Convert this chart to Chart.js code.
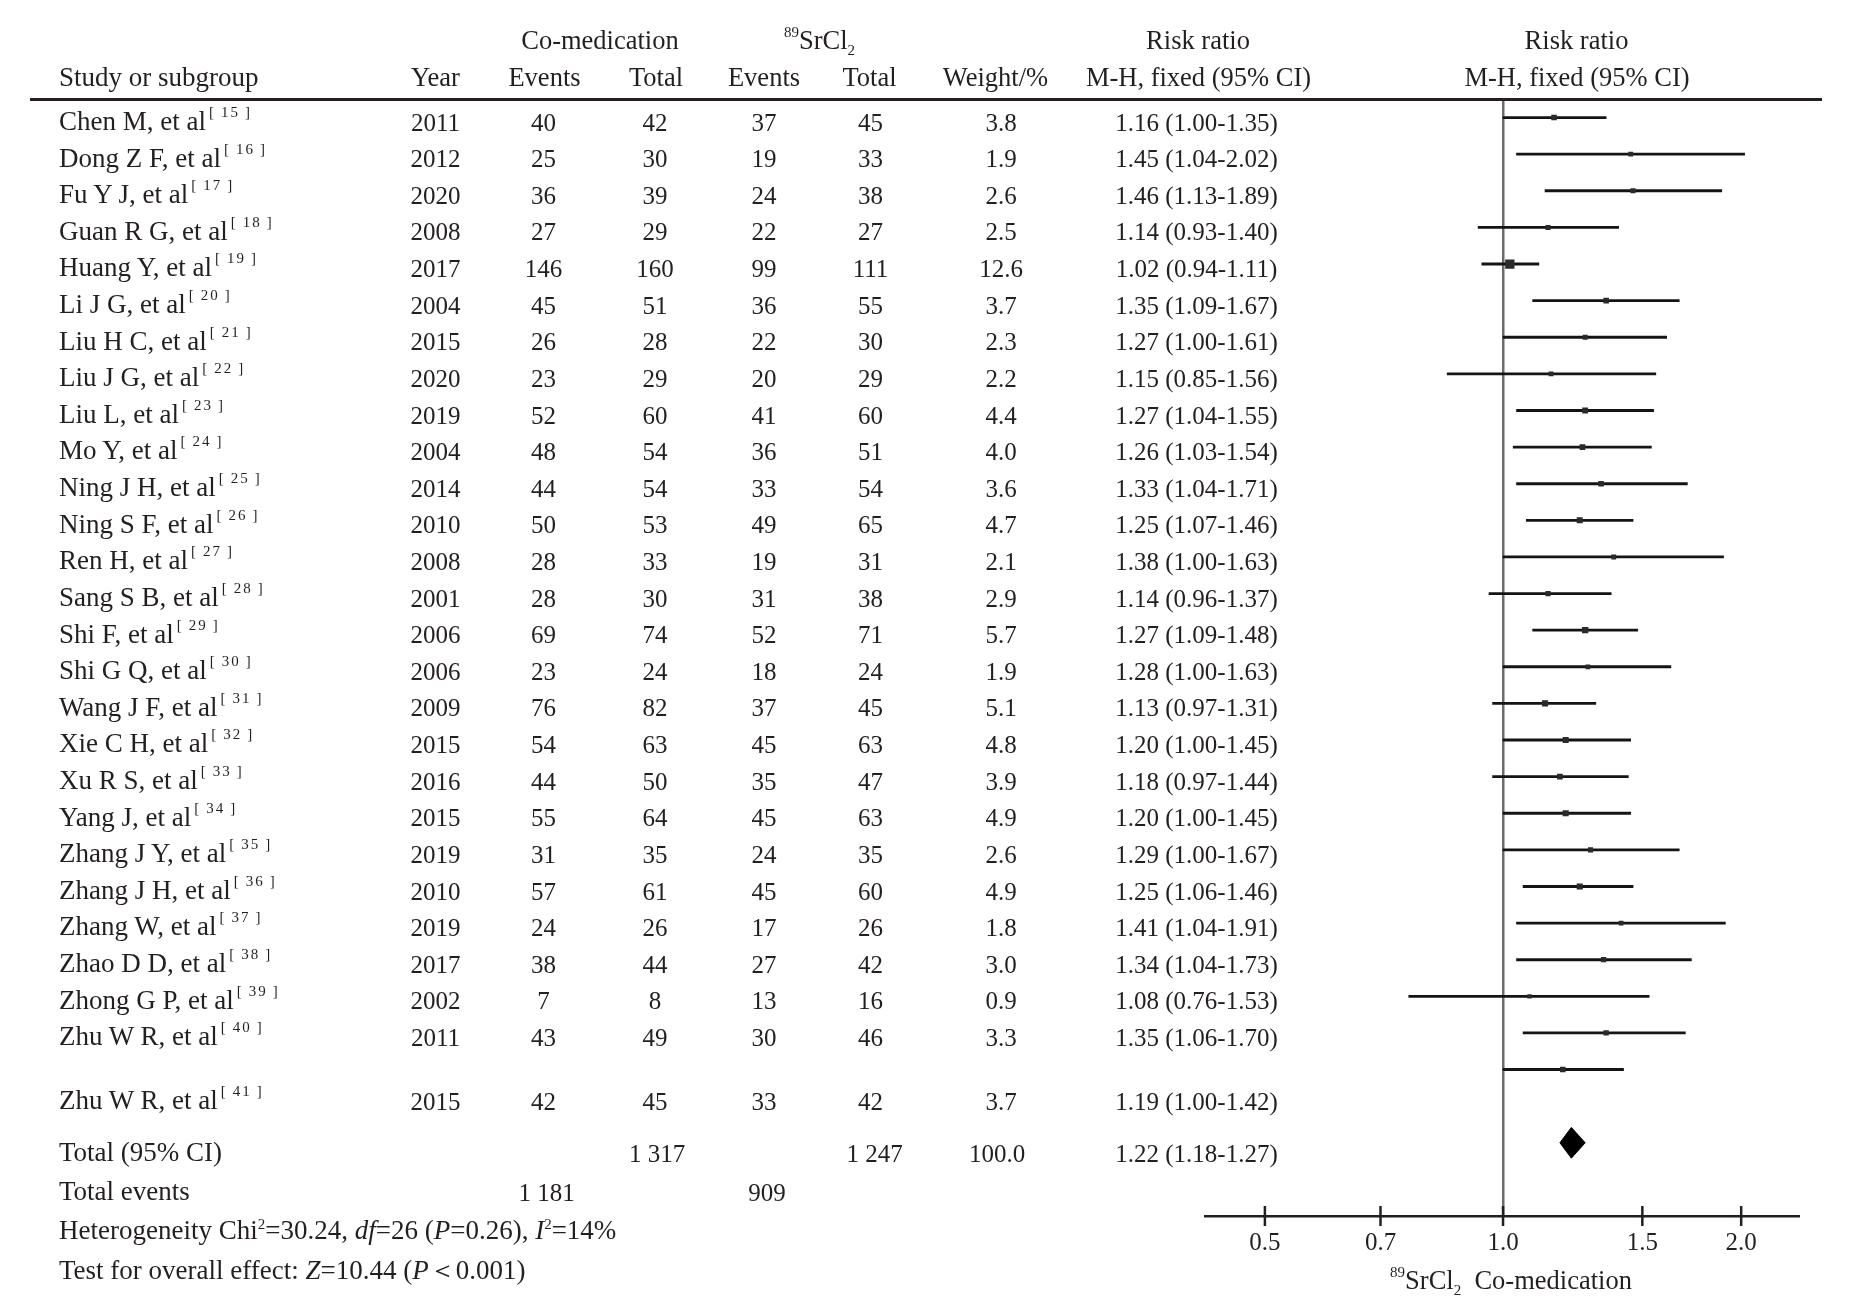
<!DOCTYPE html>
<html><head><meta charset="utf-8">
<script src="https://cdn.jsdelivr.net/npm/chart.js@4.4.1/dist/chart.umd.min.js"></script>
<style>
html,body{margin:0;padding:0;background:#fff;}
body{width:1854px;height:1314px;position:relative;overflow:hidden;}
#c{position:absolute;left:0;top:0;width:1854px;height:1314px;}
.t{position:absolute;white-space:nowrap;line-height:1;font-family:'Liberation Serif','Times New Roman',serif;color:#231f20;}
.ref{font-size:15px;position:relative;top:-13px;margin-left:3px;letter-spacing:2px;}
.sup{font-size:15px;position:relative;top:-12px;}
.sub{font-size:15px;position:relative;top:6px;}
#rule{position:absolute;left:30px;top:98px;width:1792px;height:3px;background:#231f20;}
</style></head><body>
<canvas id="c" width="1854" height="1314"></canvas>
<div id="rule"></div>
<script>
// ---------------- data ----------------
const studyNames = ["Chen M, et al","Dong Z F, et al","Fu Y J, et al","Guan R G, et al","Huang Y, et al","Li J G, et al","Liu H C, et al","Liu J G, et al","Liu L, et al","Mo Y, et al","Ning J H, et al","Ning S F, et al","Ren H, et al","Sang S B, et al","Shi F, et al","Shi G Q, et al","Wang J F, et al","Xie C H, et al","Xu R S, et al","Yang J, et al","Zhang J Y, et al","Zhang J H, et al","Zhang W, et al","Zhao D D, et al","Zhong G P, et al","Zhu W R, et al","Zhu W R, et al"];
const studyRefs = [15,16,17,18,19,20,21,22,23,24,25,26,27,28,29,30,31,32,33,34,35,36,37,38,39,40,41];
const studyYears = [2011,2012,2020,2008,2017,2004,2015,2020,2019,2004,2014,2010,2008,2001,2006,2006,2009,2015,2016,2015,2019,2010,2019,2017,2002,2011,2015];
const coEvents = [40,25,36,27,146,45,26,23,52,48,44,50,28,28,69,23,76,54,44,55,31,57,24,38,7,43,42];
const coTotals = [42,30,39,29,160,51,28,29,60,54,54,53,33,30,74,24,82,63,50,64,35,61,26,44,8,49,45];
const srEvents = [37,19,24,22,99,36,22,20,41,36,33,49,19,31,52,18,37,45,35,45,24,45,17,27,13,30,33];
const srTotals = [45,33,38,27,111,55,30,29,60,51,54,65,31,38,71,24,45,63,47,63,35,60,26,42,16,46,42];
const weights = [3.8,1.9,2.6,2.5,12.6,3.7,2.3,2.2,4.4,4.0,3.6,4.7,2.1,2.9,5.7,1.9,5.1,4.8,3.9,4.9,2.6,4.9,1.8,3.0,0.9,3.3,3.7];
// plotted point estimates and CI ends (as drawn in the picture)
const riskRatios = [1.16,1.45,1.46,1.14,1.02,1.35,1.27,1.15,1.27,1.26,1.33,1.25,1.38,1.14,1.27,1.28,1.13,1.20,1.18,1.20,1.29,1.25,1.41,1.34,1.08,1.35,1.19];
const ciLower = [1.00,1.04,1.13,0.93,0.94,1.09,1.00,0.85,1.04,1.03,1.04,1.07,1.00,0.96,1.09,1.00,0.97,1.00,0.97,1.00,1.00,1.06,1.04,1.04,0.76,1.06,1.00];
const ciUpper = [1.35,2.02,1.89,1.40,1.11,1.67,1.61,1.56,1.55,1.54,1.71,1.46,1.90,1.37,1.48,1.63,1.31,1.45,1.44,1.45,1.67,1.46,1.91,1.73,1.53,1.70,1.42];
const rrLabels = ["1.16 (1.00-1.35)","1.45 (1.04-2.02)","1.46 (1.13-1.89)","1.14 (0.93-1.40)","1.02 (0.94-1.11)","1.35 (1.09-1.67)","1.27 (1.00-1.61)","1.15 (0.85-1.56)","1.27 (1.04-1.55)","1.26 (1.03-1.54)","1.33 (1.04-1.71)","1.25 (1.07-1.46)","1.38 (1.00-1.63)","1.14 (0.96-1.37)","1.27 (1.09-1.48)","1.28 (1.00-1.63)","1.13 (0.97-1.31)","1.20 (1.00-1.45)","1.18 (0.97-1.44)","1.20 (1.00-1.45)","1.29 (1.00-1.67)","1.25 (1.06-1.46)","1.41 (1.04-1.91)","1.34 (1.04-1.73)","1.08 (0.76-1.53)","1.35 (1.06-1.70)","1.19 (1.00-1.42)"];
const pooledRR = 1.22, pooledLow = 1.18, pooledHigh = 1.27;
const pooledLabel = "1.22 (1.18-1.27)";
const totalCoTotal = "1 317", totalSrTotal = "1 247", totalWeight = "100.0";
const totalCoEvents = "1 181", totalSrEvents = "909";
const axisTicks = [0.5, 0.7, 1.0, 1.5, 2.0];
const axisTickLabels = ["0.5", "0.7", "1.0", "1.5", "2.0"];

// ---------------- layout constants ----------------
const ROW_MIN = -0.48, ROW_MAX = 30, POOLED_ROW = 28, DIAMOND_HALF = 0.42;
const FONT = "'Liberation Serif','Times New Roman',serif";
const INK = '#231f20';
const rows = studyNames.map((_, i) => i);

const chart = new Chart(document.getElementById('c'), {
  type: 'scatter',
  data: {
    datasets: [
      { // confidence intervals
        type: 'bar', indexAxis: 'y',
        data: rows.map(i => ({ y: i, x: [ciLower[i], ciUpper[i]] })),
        backgroundColor: '#141414', borderWidth: 0, barThickness: 2.2, order: 3
      },
      { // study estimates
        type: 'scatter',
        data: rows.map(i => ({ x: riskRatios[i], y: i })),
        pointStyle: 'rect',
        pointRadius: ctx => (4 + 0.42 * weights[ctx.dataIndex]) / Math.SQRT2,
        backgroundColor: '#2a2a2a', borderWidth: 0, order: 1
      },
      { // pooled diamond
        type: 'line', showLine: true,
        data: [
          { x: pooledLow, y: POOLED_ROW },
          { x: pooledRR, y: POOLED_ROW - DIAMOND_HALF },
          { x: pooledHigh, y: POOLED_ROW },
          { x: pooledRR, y: POOLED_ROW + DIAMOND_HALF },
          { x: pooledLow, y: POOLED_ROW }
        ],
        borderColor: '#000', backgroundColor: '#000', borderWidth: 1,
        fill: 'shape', pointRadius: 0, tension: 0, order: 2
      },
      { // axis tick marks crossing the axis line
        type: 'scatter',
        data: axisTicks.map(v => ({ x: v, y: ROW_MAX })),
        pointStyle: 'line', rotation: 90, pointRadius: 10,
        borderColor: INK, borderWidth: 2.5, clip: false, order: 0
      }
    ]
  },
  options: {
    responsive: false, animation: false, events: [],
    layout: { padding: { left: 1205, right: 54.5, top: 100, bottom: 48 } },
    plugins: { legend: { display: false }, tooltip: { enabled: false } },
    scales: {
      x: {
        type: 'logarithmic', min: 0.42, max: 2.37, beginAtZero: false, offset: false,
        afterBuildTicks: s => { s.ticks = axisTicks.map(v => ({ value: v })); },
        afterFit: s => { s.height = 50; },
        ticks: {
          autoSkip: false, maxRotation: 0, padding: 12, color: INK,
          font: { family: FONT, size: 25 },
          callback: v => { const k = axisTicks.indexOf(v); return k >= 0 ? axisTickLabels[k] : ''; }
        },
        grid: {
          drawTicks: false, drawOnChartArea: true,
          color: ctx => (ctx.tick && ctx.tick.value === 1) ? '#6b6b6b' : 'rgba(0,0,0,0)',
          lineWidth: ctx => (ctx.tick && ctx.tick.value === 1) ? 2.5 : 0
        },
        border: { display: true, color: INK, width: 2.5 }
      },
      y: { type: 'linear', min: ROW_MIN, max: ROW_MAX, reverse: true, display: false, offset: false }
    }
  }
});

// ---------------- table text ----------------
function place(html, x, baseline, size, align) {
  const d = document.createElement('div');
  d.className = 't';
  d.style.fontSize = size + 'px';
  d.style.top = (baseline - 0.8375 * size) + 'px';
  d.style.left = x + 'px';
  if (align !== 'left') d.style.transform = 'translateX(-50%)';
  d.innerHTML = html;
  document.body.appendChild(d);
}
const COL = { name: 59, year: 435.5, coEv: 543.5, coTot: 655, srEv: 764, srTot: 870.5, wt: 1001, rr: 1196.5, plot: 1576.5 };
const TXT = 27, NUM = 25, HDR = 26.5;

// headers
place('Co-medication', 600, 49.5, HDR);
place('<span class="sup">89</span>SrCl<span class="sub">2</span>', 819.5, 49.5, HDR);
place('Risk ratio', 1198, 49.5, HDR);
place('Risk ratio', COL.plot, 49.5, HDR);
place('Study or subgroup', COL.name, 86.5, TXT, 'left');
place('Year', COL.year, 86.5, HDR);
place('Events', COL.coEv + 1, 86.5, HDR);
place('Total', COL.coTot + 1, 86.5, HDR);
place('Events', COL.srEv, 86.5, HDR);
place('Total', COL.srTot - 1, 86.5, HDR);
place('Weight/%', 995.5, 86.5, HDR);
place('M-H, fixed (95% CI)', 1198.5, 86.5, HDR);
place('M-H, fixed (95% CI)', COL.plot + 0.5, 86.5, HDR);

// study rows, aligned to the chart's row scale
const ys = chart.scales.y;
rows.forEach(i => {
  const b = ys.getPixelForValue(i) + (i === rows.length - 1 ? 40 : 13);
  place(studyNames[i] + '<span class="ref">[\u2009' + studyRefs[i] + '\u2009]</span>', COL.name, b, TXT, 'left');
  place(String(studyYears[i]), COL.year, b, NUM);
  place(String(coEvents[i]), COL.coEv, b, NUM);
  place(String(coTotals[i]), COL.coTot, b, NUM);
  place(String(srEvents[i]), COL.srEv, b, NUM);
  place(String(srTotals[i]), COL.srTot, b, NUM);
  place(weights[i].toFixed(1), COL.wt, b, NUM);
  place(rrLabels[i], COL.rr, b, NUM);
});

// summary rows
place('Total (95% CI)', COL.name, 1162, TXT, 'left');
place(totalCoTotal, COL.coTot + 2, 1162, NUM);
place(totalSrTotal, COL.srTot + 4, 1162, NUM);
place(totalWeight, 997, 1162, NUM);
place(pooledLabel, COL.rr, 1162, NUM);
place('Total events', COL.name, 1200.5, TXT, 'left');
place(totalCoEvents, COL.coEv + 3, 1200.5, NUM);
place(totalSrEvents, COL.srEv + 3, 1200.5, NUM);
place('Heterogeneity Chi<span class="sup" style="top:-10px">2</span>=30.24, <i>df</i>=26 (<i>P</i>=0.26), <i>I</i><span class="sup" style="top:-10px">2</span>=14%', COL.name, 1240, TXT, 'left');
place('Test for overall effect: <i>Z</i>=10.44 (<i>P</i>\uFF1C0.001)', COL.name, 1280, TXT, 'left');

// axis title
place('<span class="sup">89</span>SrCl<span class="sub">2</span>&nbsp; Co-medication', 1511, 1289, HDR);
</script></body></html>
